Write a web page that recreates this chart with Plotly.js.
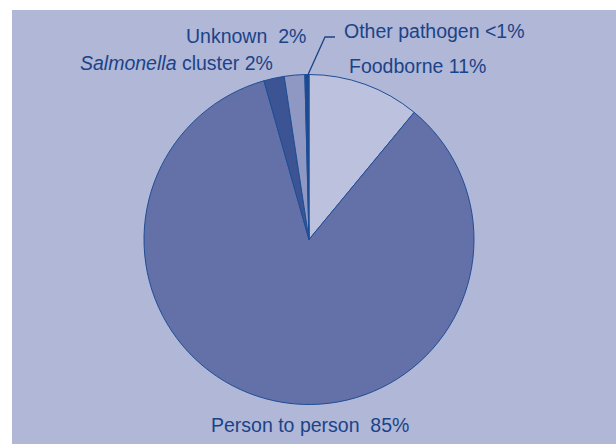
<!DOCTYPE html>
<html>
<head>
<meta charset="utf-8">
<script src="https://cdn.plot.ly/plotly-3.0.1.min.js"></script>
<style>html,body{margin:0;padding:0;background:#fff;}#chart{width:616px;height:444px;}</style>
</head>
<body>
<div id="chart"></div>
<script>
// Data
const categories = ["Foodborne", "Person to person", "Salmonella cluster", "Unknown", "Other pathogen"];
const shares = [11, 84.6, 2, 2, 0.4];
const sliceColors = ["#bcc1de", "#6470a8", "#3c5394", "#8f98c2", "#1d4a90"];
const labelTexts = ["Foodborne 11%", "Person to person  85%", "<i>Salmonella</i> cluster 2%", "Unknown  2%", "Other pathogen &lt;1%"];

const W = 616, H = 444;
const px = x => x / W;
const py = y => 1 - y / H;

const cx = 309, cy = 239.5, R = 165;

const textColor = "#1b4388";
const font = {family: "'Liberation Sans', Arial, sans-serif", size: 19.5, color: textColor};

const trace = {
  type: "pie",
  labels: categories,
  values: shares,
  sort: false,
  direction: "clockwise",
  rotation: 0,
  marker: {colors: sliceColors, line: {color: "#1f4e96", width: 1}},
  textinfo: "none",
  hoverinfo: "none",
  showlegend: false,
  domain: {x: [px(cx - R), px(cx + R)], y: [py(cy + R), py(cy - R)]}
};

// label positions (layout only)
const labelPos = [
  {x: 346.7, y: 66.5, xanchor: "left"},
  {x: 310, y: 425, xanchor: "center"},
  {x: 275, y: 63.2, xanchor: "right"},
  {x: 308, y: 35.5, xanchor: "right"},
  {x: 341.7, y: 30.5, xanchor: "left"}
];

const annotations = labelTexts.map((t, i) => ({
  text: t, xref: "paper", yref: "paper",
  x: px(labelPos[i].x), y: py(labelPos[i].y),
  xanchor: labelPos[i].xanchor, yanchor: "middle",
  showarrow: false, font: font
}));

const layout = {
  width: W, height: H,
  margin: {l: 0, r: 0, t: 0, b: 0},
  paper_bgcolor: "#ffffff",
  plot_bgcolor: "#ffffff",
  showlegend: false,
  annotations: annotations,
  shapes: [
    {type: "rect", xref: "paper", yref: "paper", x0: px(12), x1: px(616), y0: py(444), y1: py(10),
     fillcolor: "#b0b7d7", line: {width: 0}, layer: "below"},
    {type: "path", xref: "paper", yref: "paper",
     path: `M ${px(306.5)} ${py(78)} L ${px(325)} ${py(37)} L ${px(335)} ${py(37)}`,
     line: {color: textColor, width: 1.3}}
  ]
};

Plotly.newPlot("chart", [trace], layout, {staticPlot: true, displayModeBar: false});
</script>
</body>
</html>
